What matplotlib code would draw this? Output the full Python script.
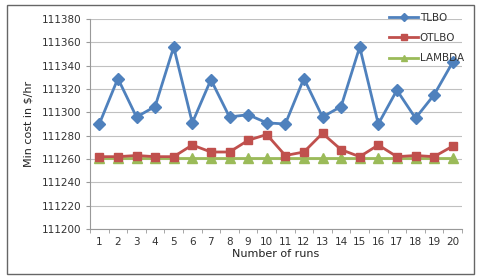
import matplotlib
matplotlib.use("Agg")
import matplotlib.pyplot as plt
from matplotlib.patches import Rectangle
from matplotlib.ticker import FixedLocator

runs = list(range(1, 21))
tlbo = [111290, 111329, 111296, 111305, 111356, 111291, 111328, 111296, 111298, 111291,
        111290, 111329, 111296, 111305, 111356, 111290, 111319, 111295, 111315, 111343]
otlbo = [111262, 111262, 111263, 111262, 111262, 111272, 111266, 111266, 111276, 111281,
         111263, 111266, 111282, 111268, 111262, 111272, 111262, 111263, 111262, 111271]
lambda_ = [111261] * 20
yticks = list(range(111200, 111381, 20))

plt.rcParams['font.family'] = ['DejaVu Sans']
fig = plt.figure(figsize=(4.8, 2.78), dpi=100)
fig.patches.append(Rectangle((7/480, 1-274/278), 467/480, 269/278, transform=fig.transFigure,
                             fill=False, edgecolor='#666666', linewidth=1.0))
ax = fig.add_axes([90/480, 1-229/278, 372/480, 210/278])

ax.plot(runs, tlbo, color='#4F81BD', lw=2, marker='D', ms=6, label='TLBO', zorder=4)
ax.plot(runs, otlbo, color='#C0504D', lw=2, marker='s', ms=6, label='OTLBO', zorder=3)
ax.plot(runs, lambda_, color='#9BBB59', lw=2, marker='^', ms=6.5, label='LAMBDA', zorder=2)

ax.set_xlim(0.5, 20.5)
ax.set_ylim(111200, 111380)
ax.set_yticks(yticks)
ax.set_xticks(runs)
ax.xaxis.set_minor_locator(FixedLocator([i + 0.5 for i in range(0, 21)]))
ax.tick_params(axis='x', which='major', length=0, labelsize=7.5, pad=6, colors='#333333')
ax.tick_params(axis='x', which='minor', length=3, color='#999999', direction='out')
ax.tick_params(axis='y', length=3, color='#999999', labelsize=7.5, colors='#333333', pad=3)
ax.grid(axis='y', color='#C0C0C0', lw=0.8)
ax.set_axisbelow(True)
for s in ['top', 'right']:
    ax.spines[s].set_visible(False)
for s in ['left', 'bottom']:
    ax.spines[s].set_color('#999999')
    ax.spines[s].set_linewidth(0.8)

ax.set_xlabel('Number of runs', fontsize=8, color='#222222', labelpad=1)
ax.set_ylabel('Min cost in $/hr', fontsize=8, color='#222222', labelpad=6)

leg = ax.legend(loc='upper right', bbox_to_anchor=(1.03, 1.075), frameon=False, fontsize=7.5,
                handlelength=2.7, labelspacing=1.0, handletextpad=0.2, markerscale=0.7)
for t in leg.get_texts():
    t.set_color('#333333')

fig.savefig('out.png', dpi=100)
